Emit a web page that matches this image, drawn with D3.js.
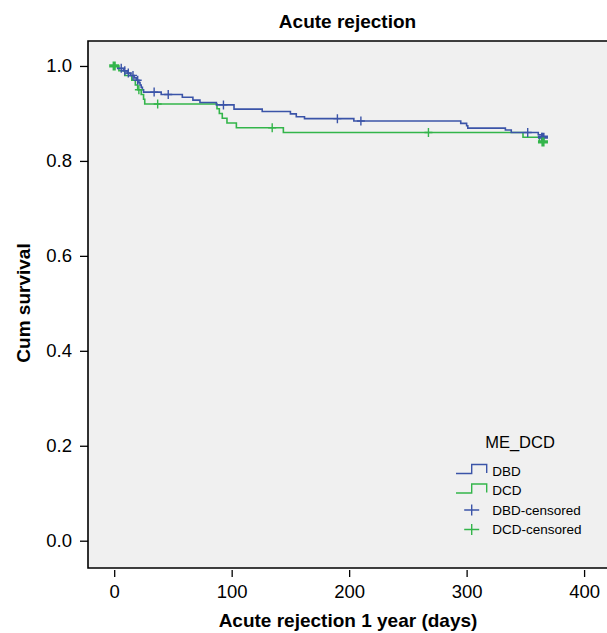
<!DOCTYPE html>
<html>
<head>
<meta charset="utf-8">
<script src="https://cdn.jsdelivr.net/npm/d3@7"></script>
<style>
body { margin: 0; background: #fff; }
text { font-family: "Liberation Sans", Arial, sans-serif; fill: #000; }
</style>
</head>
<body>
<svg id="chart" width="607" height="633"></svg>
<script>
// Kaplan-Meier steps: [day, cum survival after the event]
var dbdSteps = [[0, 1.0], [3, 0.995], [8, 0.990], [11, 0.985], [14, 0.980], [17, 0.975], [19, 0.970],
	[21, 0.965], [22, 0.960], [23, 0.955], [24, 0.950], [25, 0.945], [40, 0.940], [58, 0.934],
	[67, 0.928], [73, 0.923], [87, 0.918], [102, 0.909], [126, 0.904], [150, 0.899], [155, 0.893],
	[162, 0.889], [204, 0.884], [295, 0.879], [300, 0.874], [301, 0.869], [333, 0.865],
	[338, 0.860], [361, 0.855], [364, 0.850]];
var dbdCensored = [6, 9, 12, 16, 20, 34, 46, 93, 190, 210, 352, 364, 365, 365, 365];

var dcdSteps = [[0, 1.0], [4, 0.99], [9, 0.98], [15, 0.97], [18, 0.96], [20, 0.95], [23, 0.94],
	[25, 0.93], [26, 0.92], [87.5, 0.91], [89.5, 0.90], [92, 0.89], [96, 0.88], [104, 0.87],
	[144, 0.86], [348, 0.85], [362, 0.84]];
var dcdCensored = [0, 0, 0, 21, 37, 134.5, 267.5, 365, 365, 365];

var endDay = 365;
var groups = ["DBD", "DCD"];
var groupColors = ["#3b54a8", "#33b54a"];
var xTicks = [0, 100, 200, 300, 400];
var yTicks = [0.0, 0.2, 0.4, 0.6, 0.8, 1.0];

var svg = d3.select("#chart");
var plotL = 88, plotT = 41, plotR = 607, plotB = 568;

var x = d3.scaleLinear().domain([-22.3, 419.5]).range([plotL, plotR]);
var y = d3.scaleLinear().domain([-0.0575, 1.0526]).range([plotB, plotT]);

// plot background + frame
svg.append("rect")
	.attr("x", plotL).attr("y", plotT)
	.attr("width", plotR - plotL).attr("height", plotB - plotT)
	.attr("fill", "#f0f0f0");
svg.append("path")
	.attr("d", "M" + plotR + "," + plotT + "H" + plotL + "V" + plotB + "H" + plotR)
	.attr("fill", "none")
	.attr("stroke", "#000")
	.attr("stroke-width", 1.6);

// axes
var yAxis = d3.axisLeft(y).tickValues(yTicks).tickFormat(d3.format(".1f"))
	.tickSize(8).tickSizeOuter(0).tickPadding(8);
var gy = svg.append("g").attr("transform", "translate(" + plotL + ",0)").call(yAxis);

var xAxis = d3.axisBottom(x).tickValues(xTicks).tickFormat(d3.format("d"))
	.tickSize(7).tickSizeOuter(0).tickPadding(7.5);
var gx = svg.append("g").attr("transform", "translate(0," + (plotB + 2) + ")").call(xAxis);

[gx, gy].forEach(function (g) {
	g.select(".domain").remove();
	g.selectAll(".tick line").attr("stroke", "#000").attr("stroke-width", 1.3);
	g.selectAll(".tick text")
		.style("font-family", "'Liberation Sans', Arial, sans-serif")
		.style("font-size", "18.5px")
		.attr("fill", "#000");
});

// titles
svg.append("text")
	.attr("x", (plotL + plotR) / 2).attr("y", 28)
	.attr("text-anchor", "middle")
	.style("font-size", "19px").style("font-weight", "bold")
	.text("Acute rejection");

svg.append("text")
	.attr("x", 348).attr("y", 627)
	.attr("text-anchor", "middle")
	.style("font-size", "19px").style("font-weight", "bold")
	.text("Acute rejection 1 year (days)");

svg.append("text")
	.attr("transform", "translate(30,303) rotate(-90)")
	.attr("text-anchor", "middle")
	.style("font-size", "19px").style("font-weight", "bold")
	.text("Cum survival");

function survAt(steps, t) {
	var s = 1;
	steps.forEach(function (p) { if (p[0] <= t) s = p[1]; });
	return s;
}

var line = d3.line()
	.x(function (d) { return x(d[0]); })
	.y(function (d) { return y(d[1]); })
	.curve(d3.curveStepAfter);

var series = [
	{ steps: dbdSteps, censored: dbdCensored, color: groupColors[0] },
	{ steps: dcdSteps, censored: dcdCensored, color: groupColors[1] }
];

// green under blue
[series[1], series[0]].forEach(function (s) {
	var pts = s.steps.slice();
	pts.push([endDay, s.steps[s.steps.length - 1][1]]);
	svg.append("path")
		.attr("d", line(pts))
		.attr("fill", "none")
		.attr("stroke", s.color)
		.attr("stroke-width", 1.6);
});

function plus(cx, cy, hw, hh) {
	return "M" + (cx - hw) + "," + cy + "H" + (cx + hw) + "M" + cx + "," + (cy - hh) + "V" + (cy + hh);
}

series.forEach(function (s) {
	var counts = d3.rollups(s.censored, function (v) { return v.length; }, function (d) { return d; });
	counts.forEach(function (c) {
		var cx = x(c[0]), cy = y(survAt(s.steps, c[0]));
		svg.append("path")
			.attr("d", plus(cx, cy, c[1] > 1 ? 5 : 4, 4.5))
			.attr("fill", "none")
			.attr("stroke", s.color)
			.attr("stroke-width", c[1] > 2 ? 3.2 : (c[1] > 1 ? 2.4 : 1.4));
	});
});

// legend
var lg = svg.append("g");
lg.append("text")
	.attr("x", 520).attr("y", 448)
	.attr("text-anchor", "middle")
	.style("font-size", "16.5px")
	.text("ME_DCD");

var legendLabels = ["DBD", "DCD", "DBD-censored", "DCD-censored"];
legendLabels.forEach(function (lab, i) {
	var by = 475.5 + i * 19.5;
	var col = groupColors[i % 2];
	if (i < 2) {
		lg.append("path")
			.attr("d", "M456," + (by - 2) + "H471.7V" + (by - 11) + "H486.7V" + (by - 2.5))
			.attr("fill", "none")
			.attr("stroke", col)
			.attr("stroke-width", 1.4);
	} else {
		lg.append("path")
			.attr("d", plus(471.7, by - 4.5, 7.5, 5.5))
			.attr("fill", "none")
			.attr("stroke", col)
			.attr("stroke-width", 1.4);
	}
	lg.append("text")
		.attr("x", 492.3).attr("y", by)
		.style("font-size", "13.5px")
		.text(lab);
});
</script>
</body>
</html>
